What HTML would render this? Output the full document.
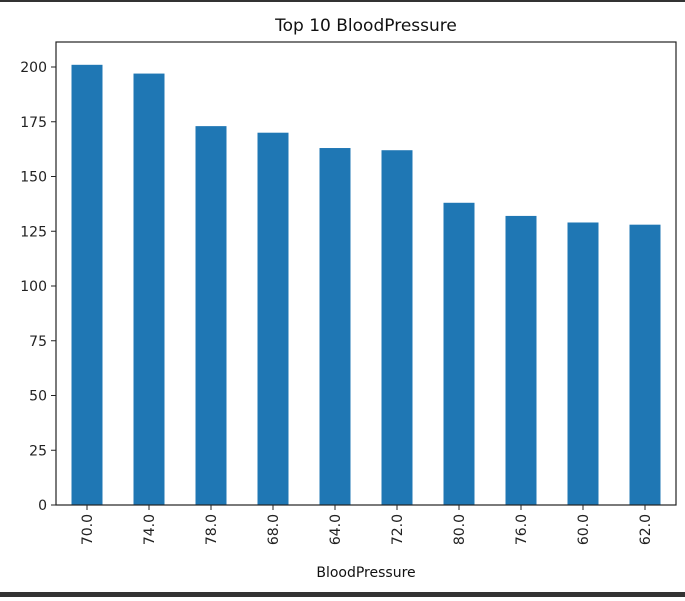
<!DOCTYPE html>
<html><head><meta charset="utf-8"><style>
body{margin:0;background:#fff;width:685px;height:597px;overflow:hidden;font-family:"DejaVu Sans","Liberation Sans",sans-serif}
</style></head><body>
<svg width="685" height="597" xmlns="http://www.w3.org/2000/svg">
<rect x="0" y="0" width="685" height="2" fill="#333"/>
<rect x="0" y="592" width="685" height="5" fill="#333"/>
<text x="366" y="31" font-size="17" text-anchor="middle" fill="#111">Top 10 BloodPressure</text>
<g id="bars"></g><g id="yt"></g><g id="xt"></g>
<rect x="56" y="42" width="620" height="463" fill="none" stroke="#222" stroke-width="1.2"/>
<text x="366" y="577" font-size="14" text-anchor="middle" fill="#111">BloodPressure</text>
</svg>
<script>
const categories=["70.0","74.0","78.0","68.0","64.0","72.0","80.0","76.0","60.0","62.0"];
const values=[201,197,173,170,163,162,138,132,129,128];
const yTicks=[0,25,50,75,100,125,150,175,200];
const L=56,R=676,B=505,pxPer=438/200;
const step=(R-L)/categories.length;
const y=v=>B-v*pxPer, x=i=>L+step*(i+0.5);
const NS="http://www.w3.org/2000/svg";
function mk(t,a,p){const e=document.createElementNS(NS,t);for(const k in a)e.setAttribute(k,a[k]);p.appendChild(e);return e;}
const bars=document.getElementById('bars'),yt=document.getElementById('yt'),xt=document.getElementById('xt');
values.forEach((v,i)=>{
 const r=mk('rect',{x:x(i)-step/4,y:y(v),width:step/2,height:B-y(v),fill:'#1f77b4'},bars);
 
 
});
yTicks.forEach(t=>{
 const l=mk('line',{x1:L-5,x2:L,y1:y(t),y2:y(t),stroke:'#222'},yt);
 
 
 const tx=mk('text',{x:L-9,y:y(t)+5,'font-size':14,'text-anchor':'end',fill:'#222'},yt);
 tx.textContent=t;
 
 
});
categories.forEach((c,i)=>{
 const l=mk('line',{x1:x(i),x2:x(i),y1:B,y2:B+5,stroke:'#222'},xt);
 
 
 const tx=mk('text',{x:0,y:0,'font-size':14,'text-anchor':'end',fill:'#222',transform:`translate(${x(i)+5},${B+9}) rotate(-90)`},xt);
 tx.textContent=c;
 
 
});
</script>
</body></html>
